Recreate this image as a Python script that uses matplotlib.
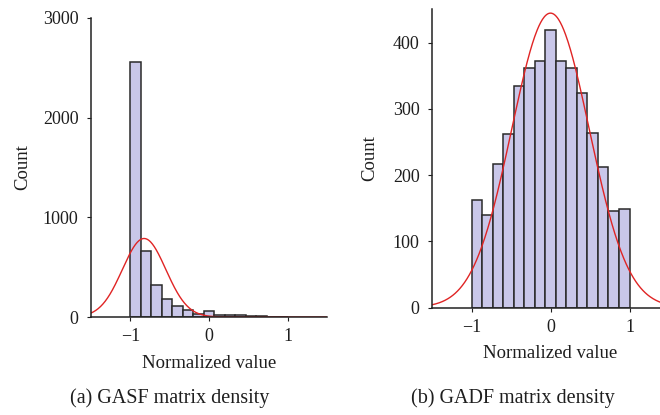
import numpy as np
import matplotlib
matplotlib.use('Agg')
import matplotlib.pyplot as plt

plt.rcParams['font.family'] = ['Liberation Serif', 'DejaVu Serif']

# ---------------- DATA ----------------
BIN_EDGES = np.linspace(-1, 1, 16)  # 15 bins over [-1, 1]
GASF_COUNTS = [2560, 659, 318, 181, 114, 68, 33, 57, 23, 23, 22, 14, 8, 4, 3]
GADF_COUNTS = [163, 140, 217, 262, 334, 361, 372, 419, 372, 361, 324, 264, 212, 146, 148]
# fitted normal curve parameters (mean, sigma)
GASF_FIT = (-0.825, 0.276)
GADF_FIT = (0.0, 0.49)
CAPTIONS = ['(a) GASF matrix density', '(b) GADF matrix density']
GASF_YTICKS = [0, 1000, 2000, 3000]
GADF_YTICKS = [0, 100, 200, 300, 400]
XTICKS = [-1, 0, 1]

BAR_COLOR = '#c9c7e9'
EDGE_COLOR = '#2a2a2a'
RED = '#e02424'
TXT = '#1e1e1e'


def draw_panel(ax, counts, fit, ylim, yticks, ylabpad):
    widths = np.diff(BIN_EDGES)
    ax.bar(BIN_EDGES[:-1], counts, width=widths, align='edge',
           color=BAR_COLOR, edgecolor=EDGE_COLOR, linewidth=1.1, zorder=2)
    mu, sig = fit
    n = np.sum(counts)
    xs = np.linspace(-1.5, 1.5, 400)
    ys = n * widths[0] / (sig * np.sqrt(2 * np.pi)) * np.exp(-(xs - mu) ** 2 / (2 * sig ** 2))
    ax.plot(xs, ys, color=RED, lw=1.0, zorder=3)
    ax.set_xlim(-1.5, 1.5)
    ax.set_ylim(*ylim)
    ax.set_xticks(XTICKS)
    ax.set_xticklabels(['\u22121', '0', '1'])
    ax.set_yticks(yticks)
    for s in ['top', 'right']:
        ax.spines[s].set_visible(False)
    for s in ['left', 'bottom']:
        ax.spines[s].set_linewidth(1.1)
        ax.spines[s].set_color('#222222')
        ax.spines[s].set_zorder(4)
    ax.tick_params(direction='out', length=3, width=0.8, labelsize=13,
                   colors=TXT)
    ax.tick_params(axis='x', pad=5)
    ax.tick_params(axis='y', pad=6)
    ax.set_xlabel('Normalized value', fontsize=13.5, color=TXT, labelpad=7)
    ax.set_ylabel('Count', fontsize=13.5, color=TXT, labelpad=ylabpad)


fig = plt.figure(figsize=(6.6, 4.15), dpi=100)

ax1 = fig.add_axes([91 / 660, (415 - 317) / 415, 236 / 660, (317 - 18) / 415])
draw_panel(ax1, GASF_COUNTS, GASF_FIT, (0, 3000), GASF_YTICKS, 8)

ax2 = fig.add_axes([432 / 660, (415 - 307.5) / 415, 237 / 660, (307.5 - 9.5) / 415])
draw_panel(ax2, GADF_COUNTS, GADF_FIT, (0, 450), GADF_YTICKS, 10)

fig.text(170 / 660, 1 - 398 / 415, CAPTIONS[0], ha='center', va='center',
         fontsize=14.5, color=TXT)
fig.text(513 / 660, 1 - 398 / 415, CAPTIONS[1], ha='center', va='center',
         fontsize=14.5, color=TXT)

fig.savefig('out.png', dpi=100)
